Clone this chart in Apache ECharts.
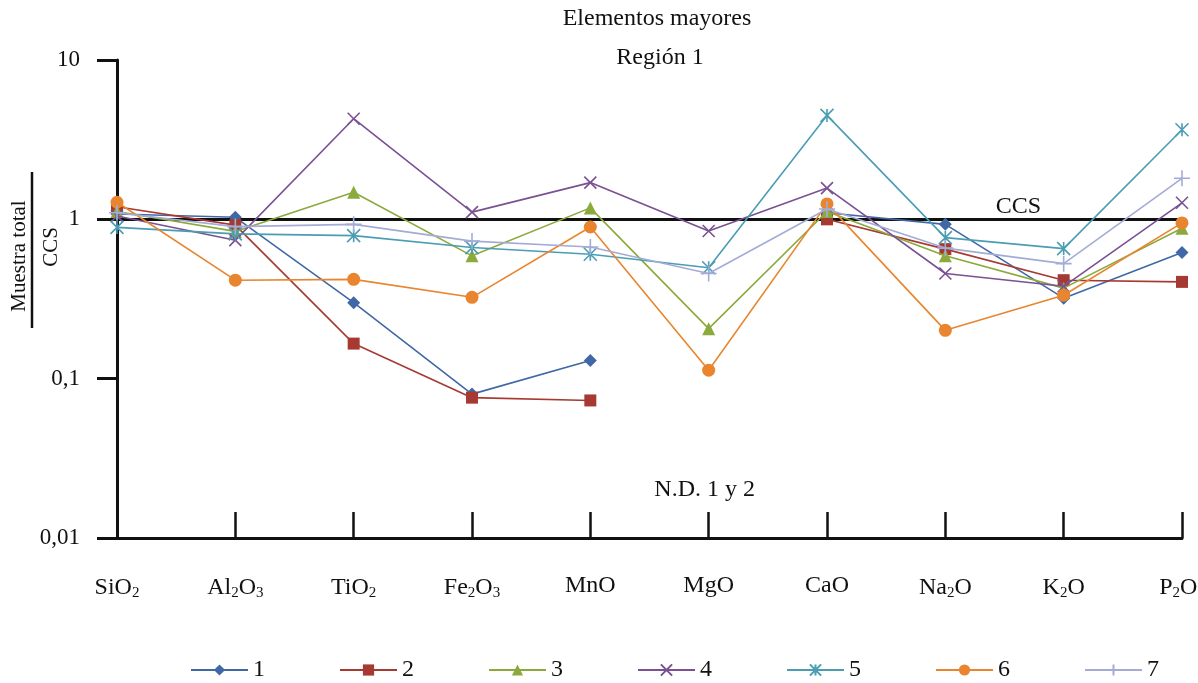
<!DOCTYPE html>
<html>
<head>
<meta charset="utf-8">
<script src="https://cdn.jsdelivr.net/npm/echarts@6/dist/echarts.min.js"></script>
<style>
  html, body { margin: 0; padding: 0; background: #fff; }
  #chart { width: 1198px; height: 683px; }
</style>
</head>
<body>
<div id="chart"></div>
<script>
const oxides = ['SiO2', 'Al2O3', 'TiO2', 'Fe2O3', 'MnO', 'MgO', 'CaO', 'Na2O', 'K2O', 'P2O5'];
const yTicks = [0.01, 0.1, 1, 10];

const s1 = [1.08, 1.03, 0.30, 0.080, 0.13, null, 1.1, 0.93, 0.32, 0.62];
const s2 = [1.2, 0.92, 0.166, 0.076, 0.073, null, 1.0, 0.65, 0.415, 0.405];
const s3 = [1.12, 0.84, 1.48, 0.59, 1.18, 0.206, 1.12, 0.59, 0.37, 0.88];
const s4 = [1.05, 0.74, 4.28, 1.11, 1.70, 0.845, 1.57, 0.457, 0.38, 1.27];
const s5 = [0.89, 0.81, 0.79, 0.665, 0.604, 0.497, 4.49, 0.768, 0.655, 3.65];
const s6 = [1.28, 0.415, 0.42, 0.324, 0.895, 0.113, 1.25, 0.201, 0.334, 0.95];
const s7 = [1.1, 0.9, 0.93, 0.73, 0.67, 0.457, 1.16, 0.66, 0.527, 1.81];

const ccsLevel = 1;

const FONT = '"Liberation Serif", "Times New Roman", serif';

const xMark = 'path://M0,0L10,10M10,0L0,10';
const starMark = 'path://M0,0L10,10M10,0L0,10M5,0L5,10';
const plusMark = 'path://M5,0L5,10M0,5L10,5';

const seriesDefs = [
  { name: '1', data: s1, color: '#4068a6', symbol: 'diamond', size: 13 },
  { name: '2', data: s2, color: '#a63a32', symbol: 'rect', size: 12 },
  { name: '3', data: s3, color: '#8caa3c', symbol: 'triangle', size: 13 },
  { name: '4', data: s4, color: '#7a5192', symbol: xMark, size: 12, stroke: true },
  { name: '5', data: s5, color: '#4a9db3', symbol: starMark, size: 13, stroke: true },
  { name: '6', data: s6, color: '#e8852e', symbol: 'circle', size: 13 },
  { name: '7', data: s7, color: '#a4acd6', symbol: plusMark, size: 16, stroke: true }
];

const chart = echarts.init(document.getElementById('chart'));

const subLabel = (v) => v.replace(/(\d)/g, '{s|$1}');

chart.setOption({
  animation: false,
  textStyle: { fontFamily: FONT },
  grid: { left: 117, right: 16, top: 60, bottom: 145, containLabel: false, outerBoundsMode: 'none' },
  legend: {
    left: 185,
    top: 653,
    itemWidth: 57,
    itemHeight: 14,
    itemGap: 74,
    textStyle: { fontFamily: FONT, fontSize: 24, color: '#111' },
    data: seriesDefs.map((d) => d.name)
  },
  xAxis: {
    type: 'category',
    data: oxides,
    boundaryGap: false,
    axisLine: { lineStyle: { color: '#111', width: 3 } },
    axisTick: { inside: true, interval: 0, length: 26, lineStyle: { color: '#111', width: 2.5 } },
    axisLabel: {
      interval: 0,
      margin: 36,
      fontFamily: FONT,
      fontSize: 24,
      color: '#111',
      formatter: subLabel,
      rich: {
        s: { fontFamily: FONT, fontSize: 15, color: '#111', padding: [12, 0, 0, 0] }
      }
    },
    splitLine: { show: false }
  },
  yAxis: {
    type: 'log',
    logBase: 10,
    min: 0.01,
    max: 10,
    axisLine: { show: true, lineStyle: { color: '#111', width: 3 } },
    axisTick: { show: true, length: 20, lineStyle: { color: '#111', width: 3 } },
    axisLabel: {
      margin: 37,
      fontFamily: FONT,
      fontSize: 23,
      color: '#111',
      formatter: (v) => String(v).replace('.', ',')
    },
    splitLine: { show: false }
  },
  series: seriesDefs.map((d, i) => ({
    name: d.name,
    type: 'line',
    data: d.data,
    symbol: d.symbol,
    symbolSize: d.size,
    connectNulls: false,
    lineStyle: { color: d.color, width: 1.6 },
    itemStyle: d.stroke
      ? { color: d.color, borderColor: d.color, borderWidth: 1.6 }
      : { color: d.color, borderWidth: 0 },
    z: 3 + i,
    markLine: i === 0 ? {
      silent: true,
      symbol: 'none',
      z: 1,
      label: { show: false },
      lineStyle: { color: '#111', width: 3, type: 'solid' },
      data: [{ yAxis: ccsLevel }]
    } : undefined
  }))
});

const ccsPos = chart.convertToPixel({ xAxisIndex: 0, yAxisIndex: 0 }, ['Na2O', ccsLevel]);
const ndPos = chart.convertToPixel({ xAxisIndex: 0, yAxisIndex: 0 }, ['MgO', 0.02]);

chart.setOption({
  graphic: [
    {
      type: 'text', x: 657, y: 19,
      style: { text: 'Elementos mayores', font: '24px ' + FONT, fill: '#111', align: 'center', verticalAlign: 'middle' }
    },
    {
      type: 'text', x: 660, y: 58,
      style: { text: 'Región 1', font: '24px ' + FONT, fill: '#111', align: 'center', verticalAlign: 'middle' }
    },
    {
      type: 'text', x: ccsPos[0] + 73, y: ccsPos[1] - 1,
      style: { text: 'CCS', font: '24px ' + FONT, fill: '#111', align: 'center', verticalAlign: 'bottom' }
    },
    {
      type: 'text', x: ndPos[0] - 4, y: ndPos[1],
      style: { text: 'N.D. 1 y 2', font: '24px ' + FONT, fill: '#111', align: 'center', verticalAlign: 'middle' }
    },
    {
      type: 'group', x: 32, y: 250, rotation: Math.PI / 2,
      children: [
        { type: 'text', x: -6, y: -2, style: { text: 'Muestra total', font: '21px ' + FONT, fill: '#111', align: 'center', verticalAlign: 'bottom' } },
        { type: 'line', shape: { x1: -78, y1: 0, x2: 78, y2: 0 }, style: { stroke: '#111', lineWidth: 2.5 } },
        { type: 'text', x: 3, y: 9, style: { text: 'CCS', font: '21px ' + FONT, fill: '#111', align: 'center', verticalAlign: 'top' } }
      ]
    }
  ]
});
</script>
</body>
</html>
